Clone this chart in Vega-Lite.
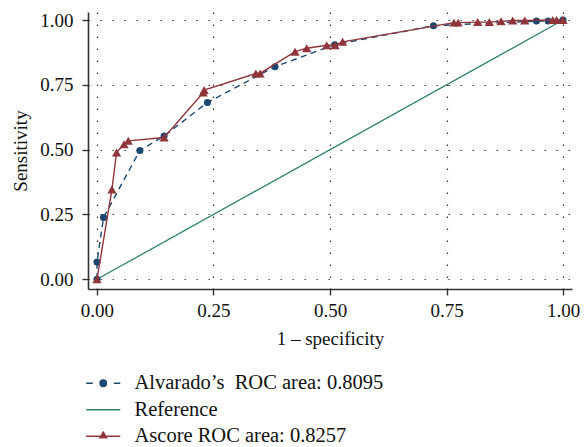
{
  "$schema": "https://vega.github.io/schema/vega-lite/v6.json",
  "width": 484,
  "height": 277,
  "autosize": {"type": "none"},
  "padding": {"left": 88, "top": 12, "right": 12, "bottom": 158},
  "background": "white",
  "config": {
    "view": {"stroke": null},
    "font": "Liberation Serif",
    "axis": {
      "labelFont": "Liberation Serif",
      "titleFont": "Liberation Serif",
      "labelFontSize": 19,
      "titleFontSize": 19,
      "titleFontWeight": "normal",
      "labelColor": "#111",
      "titleColor": "#111",
      "domainColor": "#333",
      "domainWidth": 1.6,
      "tickColor": "#333",
      "tickWidth": 1.4,
      "tickSize": 6,
      "grid": true,
      "gridColor": "#333",
      "gridWidth": 1.2,
      "gridDash": [1.4, 10.6],
      "gridOpacity": 1
    },
    "legend": {
      "labelFont": "Liberation Serif",
      "labelFontSize": 20.5,
      "labelColor": "#111",
      "labelLimit": 0
    }
  },
  "data": {
    "values": [
      {"series": "Alvarado’s\u00a0 ROC area: 0.8095", "i": 0, "x": 0, "y": 0},
      {"series": "Alvarado’s\u00a0 ROC area: 0.8095", "i": 1, "x": 0, "y": 0.067},
      {"series": "Alvarado’s\u00a0 ROC area: 0.8095", "i": 2, "x": 0.014, "y": 0.238},
      {"series": "Alvarado’s\u00a0 ROC area: 0.8095", "i": 3, "x": 0.092, "y": 0.497},
      {"series": "Alvarado’s\u00a0 ROC area: 0.8095", "i": 4, "x": 0.144, "y": 0.553},
      {"series": "Alvarado’s\u00a0 ROC area: 0.8095", "i": 5, "x": 0.237, "y": 0.682},
      {"series": "Alvarado’s\u00a0 ROC area: 0.8095", "i": 6, "x": 0.382, "y": 0.82},
      {"series": "Alvarado’s\u00a0 ROC area: 0.8095", "i": 7, "x": 0.51, "y": 0.905},
      {"series": "Alvarado’s\u00a0 ROC area: 0.8095", "i": 8, "x": 0.722, "y": 0.978},
      {"series": "Alvarado’s\u00a0 ROC area: 0.8095", "i": 9, "x": 0.943, "y": 0.996},
      {"series": "Alvarado’s\u00a0 ROC area: 0.8095", "i": 10, "x": 0.968, "y": 0.996},
      {"series": "Alvarado’s\u00a0 ROC area: 0.8095", "i": 11, "x": 1, "y": 1},
      {"series": "Reference", "i": 0, "x": 0, "y": 0},
      {"series": "Reference", "i": 1, "x": 1, "y": 1},
      {"series": "Ascore ROC area: 0.8257", "i": 0, "x": 0, "y": 0},
      {"series": "Ascore ROC area: 0.8257", "i": 1, "x": 0.032, "y": 0.346},
      {"series": "Ascore ROC area: 0.8257", "i": 2, "x": 0.042, "y": 0.489},
      {"series": "Ascore ROC area: 0.8257", "i": 3, "x": 0.058, "y": 0.521},
      {"series": "Ascore ROC area: 0.8257", "i": 4, "x": 0.067, "y": 0.534},
      {"series": "Ascore ROC area: 0.8257", "i": 5, "x": 0.144, "y": 0.547},
      {"series": "Ascore ROC area: 0.8257", "i": 6, "x": 0.228, "y": 0.72},
      {"series": "Ascore ROC area: 0.8257", "i": 7, "x": 0.23, "y": 0.73},
      {"series": "Ascore ROC area: 0.8257", "i": 8, "x": 0.341, "y": 0.794},
      {"series": "Ascore ROC area: 0.8257", "i": 9, "x": 0.35, "y": 0.794},
      {"series": "Ascore ROC area: 0.8257", "i": 10, "x": 0.425, "y": 0.878},
      {"series": "Ascore ROC area: 0.8257", "i": 11, "x": 0.45, "y": 0.891},
      {"series": "Ascore ROC area: 0.8257", "i": 12, "x": 0.493, "y": 0.903},
      {"series": "Ascore ROC area: 0.8257", "i": 13, "x": 0.511, "y": 0.903},
      {"series": "Ascore ROC area: 0.8257", "i": 14, "x": 0.527, "y": 0.916},
      {"series": "Ascore ROC area: 0.8257", "i": 15, "x": 0.766, "y": 0.99},
      {"series": "Ascore ROC area: 0.8257", "i": 16, "x": 0.775, "y": 0.99},
      {"series": "Ascore ROC area: 0.8257", "i": 17, "x": 0.817, "y": 0.992},
      {"series": "Ascore ROC area: 0.8257", "i": 18, "x": 0.842, "y": 0.992},
      {"series": "Ascore ROC area: 0.8257", "i": 19, "x": 0.867, "y": 0.995},
      {"series": "Ascore ROC area: 0.8257", "i": 20, "x": 0.892, "y": 0.998},
      {"series": "Ascore ROC area: 0.8257", "i": 21, "x": 0.918, "y": 0.998},
      {"series": "Ascore ROC area: 0.8257", "i": 22, "x": 0.978, "y": 1},
      {"series": "Ascore ROC area: 0.8257", "i": 23, "x": 0.986, "y": 1},
      {"series": "Ascore ROC area: 0.8257", "i": 24, "x": 1, "y": 1}
    ]
  },
  "encoding": {
    "x": {
      "field": "x", "type": "quantitative",
      "scale": {"domain": [-0.0193, 1.0193], "nice": false, "zero": false},
      "axis": {"title": "1 – specificity", "values": [0, 0.25, 0.5, 0.75, 1], "format": ".2f", "labelPadding": 6, "titlePadding": 9}
    },
    "y": {
      "field": "y", "type": "quantitative",
      "scale": {"domain": [-0.0374, 1.031], "nice": false, "zero": false},
      "axis": {"title": "Sensitivity", "values": [0, 0.25, 0.5, 0.75, 1], "format": ".2f", "labelPadding": 9, "titlePadding": 9}
    },
    "color": {
      "field": "series", "type": "nominal",
      "scale": {
        "domain": ["Alvarado’s\u00a0 ROC area: 0.8095", "Reference", "Ascore ROC area: 0.8257"],
        "range": ["#1a476f", "#2f7f6f", "#90353b"]
      },
      "legend": {
        "title": null,
        "orient": "none",
        "legendX": 5,
        "legendY": 361,
        "direction": "vertical",
        "symbolSize": 196,
        "symbolStrokeWidth": 1.3,
        "labelOffset": 21,
        "rowPadding": 5.5,
        "labelBaseline": "middle",
        "labelLimit": 0,
        "encode": {
          "symbols": {
            "update": {
              "shape": {"signal": "datum.value === 'Reference' ? 'M-2.43,0H2.43' : (datum.value === 'Ascore ROC area: 0.8257' ? 'M-2.43,0H2.43M-0.5,0.22L0,-0.6L0.5,0.22Z' : 'M-2.43,0H-1.5M1.5,0H2.43M0.47,0A0.47,0.47,0,1,1,-0.47,0A0.47,0.47,0,1,1,0.47,0Z')"},
              "fill": {"signal": "scale('color', datum.value)"},
              "stroke": {"signal": "scale('color', datum.value)"},
              "strokeDash": {"value": []},
              "opacity": {"value": 1},
              "fillOpacity": {"value": 1}
            }
          }
        }
      }
    },
    "order": {"field": "i", "type": "quantitative"}
  },
  "layer": [
    {
      "transform": [{"filter": "datum.series === 'Reference'"}],
      "mark": {"type": "line", "strokeWidth": 1.3}
    },
    {
      "transform": [{"filter": "datum.series !== 'Reference' && datum.series !== 'Ascore ROC area: 0.8257'"}],
      "mark": {"type": "line", "strokeWidth": 1.4, "strokeDash": [6, 4.5]}
    },
    {
      "transform": [{"filter": "datum.series !== 'Reference' && datum.series !== 'Ascore ROC area: 0.8257'"}],
      "mark": {"type": "point", "shape": "circle", "filled": true, "size": 50, "opacity": 1}
    },
    {
      "transform": [{"filter": "datum.series === 'Ascore ROC area: 0.8257'"}],
      "mark": {"type": "line", "strokeWidth": 1.4}
    },
    {
      "transform": [{"filter": "datum.series === 'Ascore ROC area: 0.8257'"}],
      "mark": {"type": "point", "shape": "triangle-up", "filled": true, "size": 85, "opacity": 1}
    }
  ]
}
